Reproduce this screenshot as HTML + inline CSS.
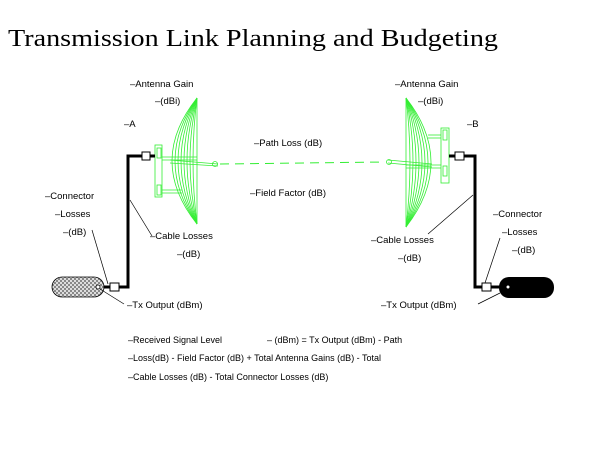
<!DOCTYPE html>
<html><head><meta charset="utf-8"><style>
html,body{margin:0;padding:0;background:#fff;}
svg{display:block;}
text{font-family:"Liberation Sans",sans-serif;font-size:9.5px;fill:#000;}
</style></head><body>
<svg width="600" height="450" viewBox="0 0 600 450" xmlns="http://www.w3.org/2000/svg">
<defs>
<pattern id="hat" width="4" height="4" patternUnits="userSpaceOnUse">
<rect width="4" height="4" fill="#ddd"/><rect width="2" height="2" fill="#888"/><rect x="2" y="2" width="2" height="2" fill="#888"/>
</pattern>
</defs>
<text x="8" y="46" textLength="490" lengthAdjust="spacingAndGlyphs" style="font-family:'Liberation Serif',serif;font-size:24px">Transmission Link Planning and Budgeting</text>

<!-- left dish -->
<g stroke="#33ee33" fill="none" stroke-width="0.8">
<line x1="197" y1="98" x2="197" y2="224"/>
<path d="M197 98 Q147 161 197 224"/>
<path d="M197 98 Q153 161 197 224"/>
<path d="M197 98 Q159 161 197 224"/>
<path d="M197 98 Q165 161 197 224"/>
<path d="M197 98 Q171 161 197 224"/>
<path d="M197 98 Q177 161 197 224"/>
<path d="M197 98 Q183 161 197 224"/>
<path d="M197 98 Q189 161 197 224"/>
<line x1="162" y1="157" x2="197" y2="157"/>
<line x1="162" y1="160" x2="197" y2="160"/>
<line x1="162" y1="190" x2="182" y2="190"/>
<line x1="162" y1="193" x2="182" y2="193"/>
<rect x="155" y="145" width="7" height="52"/>
<rect x="157" y="148" width="4" height="10"/>
<rect x="157" y="185" width="4" height="10"/>
<line x1="170" y1="160" x2="218" y2="164"/>
<line x1="170" y1="163" x2="218" y2="166"/>
<circle cx="215" cy="164" r="2.5"/>
</g>
<!-- right dish -->
<g stroke="#33ee33" fill="none" stroke-width="0.8">
<line x1="406" y1="98" x2="406" y2="227"/>
<path d="M406 98 Q456 162 406 227"/>
<path d="M406 98 Q450 162 406 227"/>
<path d="M406 98 Q444 162 406 227"/>
<path d="M406 98 Q438 162 406 227"/>
<path d="M406 98 Q432 162 406 227"/>
<path d="M406 98 Q426 162 406 227"/>
<path d="M406 98 Q420 162 406 227"/>
<path d="M406 98 Q414 162 406 227"/>
<line x1="406" y1="165" x2="441" y2="165"/>
<line x1="406" y1="168" x2="441" y2="168"/>
<line x1="428" y1="135" x2="441" y2="135"/>
<line x1="428" y1="138" x2="441" y2="138"/>
<rect x="441" y="128" width="8" height="55"/>
<rect x="443" y="130" width="4" height="10"/>
<rect x="443" y="166" width="4" height="10"/>
<line x1="388" y1="160" x2="432" y2="164"/>
<line x1="388" y1="163" x2="432" y2="167"/>
<circle cx="389" cy="162" r="2.5"/>
</g>
<!-- path dashed -->
<line x1="220" y1="164" x2="385" y2="162" stroke="#33ee33" stroke-width="1" stroke-dasharray="9,6"/>

<!-- left cable -->
<polyline points="155,156 142,156 128,156 128,287 119,287" fill="none" stroke="#000" stroke-width="3"/>
<line x1="104" y1="287" x2="110" y2="287" stroke="#000" stroke-width="3"/>
<rect x="142" y="152" width="8" height="8" fill="#fff" stroke="#000" stroke-width="1"/>
<rect x="110" y="283" width="9" height="8" fill="#fff" stroke="#000" stroke-width="1"/>
<rect x="52" y="277" width="52" height="20" rx="10" fill="url(#hat)" stroke="#000" stroke-width="0.8"/>
<circle cx="98" cy="287" r="2" fill="#fff" stroke="#000" stroke-width="0.8"/>

<!-- right cable -->
<polyline points="449,156 475,156 475,287 490,287 500,287" fill="none" stroke="#000" stroke-width="3"/>
<rect x="455" y="152" width="9" height="8" fill="#fff" stroke="#000" stroke-width="1"/>
<rect x="482" y="283" width="9" height="8" fill="#fff" stroke="#000" stroke-width="1"/>
<rect x="499" y="277" width="55" height="21" rx="10" fill="#000"/>
<circle cx="508" cy="287" r="1.5" fill="#fff"/>

<!-- leaders -->
<g stroke="#000" stroke-width="0.7">
<line x1="92" y1="230" x2="108" y2="284"/>
<line x1="130" y1="200" x2="152" y2="236"/>
<line x1="100" y1="289" x2="124" y2="304"/>
<line x1="473" y1="195" x2="428" y2="234"/>
<line x1="500" y1="238" x2="485" y2="283"/>
<line x1="478" y1="304" x2="500" y2="293"/>
</g>

<text x="130" y="87">‒Antenna Gain</text>
<text x="155" y="104">‒(dBi)</text>
<text x="124" y="127">‒A</text>
<text x="254" y="146">‒Path Loss (dB)</text>
<text x="250" y="196">‒Field Factor (dB)</text>
<text x="45" y="199">‒Connector</text>
<text x="55" y="217">‒Losses</text>
<text x="63" y="235">‒(dB)</text>
<text x="150" y="239">‒Cable Losses</text>
<text x="177" y="257">‒(dB)</text>
<text x="127" y="308">‒Tx Output (dBm)</text>

<text x="395" y="87">‒Antenna Gain</text>
<text x="418" y="104">‒(dBi)</text>
<text x="467" y="127">‒B</text>
<text x="371" y="243">‒Cable Losses</text>
<text x="398" y="261">‒(dB)</text>
<text x="493" y="217">‒Connector</text>
<text x="502" y="235">‒Losses</text>
<text x="512" y="253">‒(dB)</text>
<text x="381" y="308">‒Tx Output (dBm)</text>

<text x="128" y="343" style="font-size:9px">‒Received Signal Level</text>
<text x="267" y="343" style="font-size:9px">‒ (dBm) = Tx Output (dBm) - Path</text>
<text x="128" y="361" style="font-size:9px">‒Loss(dB) - Field Factor (dB) + Total Antenna Gains (dB) - Total</text>
<text x="128" y="380" style="font-size:9px">‒Cable Losses (dB) - Total Connector Losses (dB)</text>
</svg>
</body></html>
